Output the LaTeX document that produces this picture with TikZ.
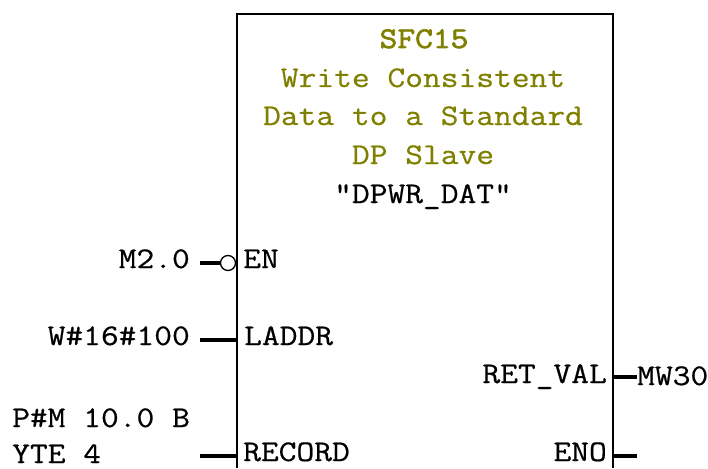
\documentclass[tikz,border=0pt]{standalone}
\usepackage{fontspec}
\newfontfamily\plcfont[FakeStretch=1.15,FakeBold=0.6]{Latin Modern Mono}
\newfontfamily\plcbold[FakeStretch=1.15,FakeBold=2.2]{Latin Modern Mono}
\definecolor{fbolive}{RGB}{128,128,0}
\begin{document}
\begin{tikzpicture}[x=1pt,y=-1pt,
  lbl/.style={font=\plcfont\fontsize{30}{31}\selectfont, inner sep=0pt, text=black},
  ttl/.style={font=\plcfont\fontsize{30}{31}\selectfont, inner sep=0pt, text=fbolive, anchor=base},
  boxline/.style={line width=2pt, draw=black},
  pinline/.style={line width=3.5pt, draw=black},
  negc/.style={circle, draw=black, line width=1.3pt, fill=white, minimum size=15pt, inner sep=0pt}]
\useasboundingbox (0,0) rectangle (708,468);
% block outline (open at the bottom)
\coordinate (bl) at (237,468);
\coordinate (tl) at (237,14);
\coordinate (tr) at (613,14);
\coordinate (br) at (613,468);
\draw[boxline] (bl) -- (tl) -- (tr) -- (br);
% title
\node[ttl, font=\plcbold\fontsize{30}{31}\selectfont] (t1) at (424,48) {SFC15};
\node[ttl] (t2) at (423,87) {Write Consistent};
\node[ttl] (t3) at (423,125) {Data to a Standard};
\node[ttl] (t4) at (423,164) {DP Slave};
\node[lbl, anchor=base] (t5) at (423,203) {"DPWR\_DAT"};
% EN
\coordinate (aEN) at (200,263);
\node[negc] (nEN) at (228,263) {};
\draw[pinline] (aEN) -- (nEN.west);
\node[lbl, anchor=base east] (vEN) at (190,268) {M2.0};
\node[lbl, anchor=base west] (tEN) at (243,268) {EN};
% LADDR
\coordinate (aLA) at (200,340);
\coordinate (pLA) at (237,340);
\draw[pinline] (aLA) -- (pLA);
\node[lbl, anchor=base east] (vLA) at (190,345) {W\#16\#100};
\node[lbl, anchor=base west] (tLA) at (244,345) {LADDR};
% RECORD
\coordinate (aRE) at (200,456);
\coordinate (pRE) at (237,456);
\draw[pinline] (aRE) -- (pRE);
\node[lbl, anchor=base west] (vRE1) at (12,427) {P\#M 10.0 B};
\node[lbl, anchor=base west] (vRE2) at (12,463) {YTE 4};
\node[lbl, anchor=base west] (tRE) at (243,461) {RECORD};
% RET_VAL
\coordinate (pRV) at (613,377);
\coordinate (aRV) at (637,377);
\draw[pinline] (pRV) -- (aRV);
\node[lbl, anchor=base east] (tRV) at (607,383) {RET\_VAL};
\node[lbl, anchor=base west] (vRV) at (637,385) {MW30};
% ENO
\coordinate (pEO) at (613,456);
\coordinate (aEO) at (637,456);
\draw[pinline] (pEO) -- (aEO);
\node[lbl, anchor=base east] (tEO) at (607,461) {ENO};
\end{tikzpicture}
\end{document}
